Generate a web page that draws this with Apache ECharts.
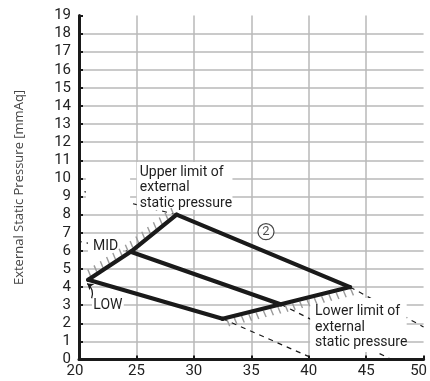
<!DOCTYPE html>
<html>
<head>
<meta charset="utf-8">
<script src="https://cdn.jsdelivr.net/npm/echarts@6/dist/echarts.min.js"></script>
<style>
  html, body { margin: 0; padding: 0; background: #fff; }
  #chart { width: 430px; height: 381px; }
</style>
</head>
<body>
<div id="chart"></div>
<script>
// Axis ranges (airflow on x, external static pressure on y)
const xTicks = [20, 25, 30, 35, 40, 45, 50];
const yTicks = [0, 1, 2, 3, 4, 5, 6, 7, 8, 9, 10, 11, 12, 13, 14, 15, 16, 17, 18, 19];

// Operating envelope, fan step ② — [airflow, pressure]
const upperLimit = [[20.8, 4.4], [24.5, 5.95], [28.5, 8.0]];
const highCurve  = [[28.5, 8.0], [43.6, 4.0]];
const midCurve   = [[24.5, 5.95], [37.6, 3.04]];
const lowCurve   = [[20.8, 4.4], [32.5, 2.25]];
const lowerLimit = [[32.5, 2.25], [43.6, 4.0]];

// System resistance curves continuing past the envelope (dashed)
const systemCurves = [
  [[28.5, 8.0], [20.0, 9.35]],
  [[24.5, 5.95], [20.0, 6.53]],
  [[32.5, 2.25], [40.6, 0.0]],
  [[37.6, 3.04], [47.2, 0.0]],
  [[43.6, 4.0], [50.0, 1.8]]
];

// Annotation texts
const noteTexts = {
  upper: 'Upper limit of\nexternal\nstatic pressure',
  lower: 'Lower limit of\nexternal\nstatic pressure',
  mid: 'MID',
  low: 'LOW',
  step: '2'
};

const FONT = 'Roboto, "Noto Sans", sans-serif';
const INK = '#1a1a1a';

// white panels behind the annotation texts: [x0, y0, x1, y1]
const panels = [
  [25.03, 10.91, 33.36, 8.26],
  [20.6, 10.4, 24.45, 8.45],
  [20.78, 6.71, 23.82, 5.66],
  [21.13, 3.4, 23.9, 2.51],
  [40.12, 3.4, 48.53, 0.41]
];

// text anchors: [x, y, key, align]
const notes = [
  [25.29, 9.48, 'upper', 'left'],
  [40.55, 1.77, 'lower', 'left'],
  [22.32, 6.22, 'mid', 'center'],
  [22.52, 2.98, 'low', 'center']
];

function pairs(line, side) {
  const out = [];
  for (let i = 0; i < line.length - 1; i++) {
    out.push([line[i][0], line[i][1], line[i + 1][0], line[i + 1][1], side]);
  }
  return out;
}
const hatchSegments = pairs(upperLimit, 1).concat(pairs(lowerLimit, -1));

const chart = echarts.init(document.getElementById('chart'), null, { renderer: 'canvas' });

function solid(name, data) {
  return {
    name, type: 'line', data, z: 5, silent: true,
    symbol: 'none', animation: false,
    lineStyle: { color: INK, width: 4.2, cap: 'round', join: 'round' }
  };
}

const series = [
  {
    type: 'custom', name: 'panels', z: 1, silent: true, animation: false,
    data: panels,
    renderItem(params, api) {
      const a = api.coord([api.value(0), api.value(1)]);
      const b = api.coord([api.value(2), api.value(3)]);
      return {
        type: 'rect',
        shape: { x: a[0], y: a[1], width: b[0] - a[0], height: b[1] - a[1] },
        style: { fill: '#ffffff' }
      };
    }
  },
  ...systemCurves.map((c, i) => ({
    name: 'system' + i, type: 'line', data: c, z: 0, silent: true,
    symbol: 'none', animation: false,
    lineStyle: { color: INK, width: 1.2, type: [5, 5] }
  })),
  {
    type: 'custom', name: 'hatch', z: 3, silent: true, animation: false,
    data: hatchSegments,
    renderItem(params, api) {
      const p0 = api.coord([api.value(0), api.value(1)]);
      const p1 = api.coord([api.value(2), api.value(3)]);
      const side = api.value(4);
      const dx = p1[0] - p0[0], dy = p1[1] - p0[1];
      const len = Math.hypot(dx, dy);
      const step = 7.5;
      const dir = [-0.39 * side, -0.92 * side];
      const children = [];
      for (let s = step / 2; s < len; s += step) {
        const qx = p0[0] + dx * s / len, qy = p0[1] + dy * s / len;
        children.push({
          type: 'line',
          shape: { x1: qx + dir[0] * 2, y1: qy + dir[1] * 2, x2: qx + dir[0] * 9, y2: qy + dir[1] * 9 },
          style: { stroke: '#9a9a9a', lineWidth: 1.4 }
        });
      }
      return { type: 'group', children };
    }
  },
  solid('upper', upperLimit),
  solid('high', highCurve),
  solid('mid', midCurve),
  solid('low', lowCurve),
  solid('lower', lowerLimit),
  {
    type: 'lines', name: 'lowPointer', coordinateSystem: 'cartesian2d', z: 6,
    silent: true, animation: false,
    symbol: ['none', 'arrow'], symbolSize: 6,
    lineStyle: { color: INK, width: 1.2, curveness: -0.35, opacity: 1 },
    data: [{ coords: [[21.1, 3.38], [20.72, 4.2]] }]
  },
  {
    type: 'custom', name: 'notes', z: 7, silent: true, animation: false,
    data: notes,
    renderItem(params, api) {
      const n = notes[params.dataIndex];
      const p = api.coord([n[0], n[1]]);
      return {
        type: 'text', x: p[0], y: p[1],
        style: {
          text: noteTexts[n[2]], fill: '#1e1e1e',
          fontSize: 14, fontFamily: FONT, lineHeight: 15.5,
          align: n[3], verticalAlign: 'middle'
        }
      };
    }
  },
  {
    type: 'scatter', name: 'step', z: 7, silent: true, animation: false,
    data: [[36.28, 7.06]],
    symbol: 'circle', symbolSize: 16,
    itemStyle: { color: '#fff', borderColor: INK, borderWidth: 1.2 },
    label: {
      show: true, position: 'inside', formatter: noteTexts.step,
      color: '#1e1e1e', fontSize: 13, fontFamily: FONT
    }
  }
];

chart.setOption({
  animation: false,
  backgroundColor: '#fff',
  grid: { left: 79, right: 4.5, top: 15.5, bottom: 21.5 },
  xAxis: {
    type: 'value', min: xTicks[0], max: xTicks[xTicks.length - 1], interval: 5,
    axisLine: { show: true, onZero: false, lineStyle: { color: INK, width: 3 } },
    axisTick: { show: true, inside: true, length: 4, lineStyle: { color: INK, width: 2 } },
    axisLabel: {
      color: '#222', fontSize: 15, fontFamily: FONT, margin: 4,
      formatter(v) {
        if (v === xTicks[0]) return '{first|' + v + '}';
        if (v === xTicks[xTicks.length - 1]) return '{last|' + v + '}';
        return String(v);
      },
      rich: {
        first: { fontSize: 15, fontFamily: FONT, color: '#222', padding: [0, 8, 0, 0] },
        last: { fontSize: 15, fontFamily: FONT, color: '#222', padding: [0, 10, 0, 0] }
      }
    },
    splitLine: { show: true, showMinLine: false, showMaxLine: false, lineStyle: { color: '#b8b8b8', width: 1.5 } }
  },
  yAxis: {
    type: 'value', min: yTicks[0], max: yTicks[yTicks.length - 1], interval: 1,
    name: 'External Static Pressure [mmAq]',
    nameLocation: 'middle', nameRotate: 90, nameGap: 53,
    nameTextStyle: { color: '#444', fontSize: 13, fontFamily: '"Open Sans", sans-serif' },
    axisLine: { show: true, onZero: false, lineStyle: { color: INK, width: 3 } },
    axisTick: { show: true, inside: true, length: 4, lineStyle: { color: INK, width: 2 } },
    axisLabel: { color: '#222', fontSize: 15, fontFamily: FONT, margin: 8 },
    splitLine: { show: true, showMinLine: false, showMaxLine: false, lineStyle: { color: '#b8b8b8', width: 1.5 } }
  },
  series
});
</script>
</body>
</html>
